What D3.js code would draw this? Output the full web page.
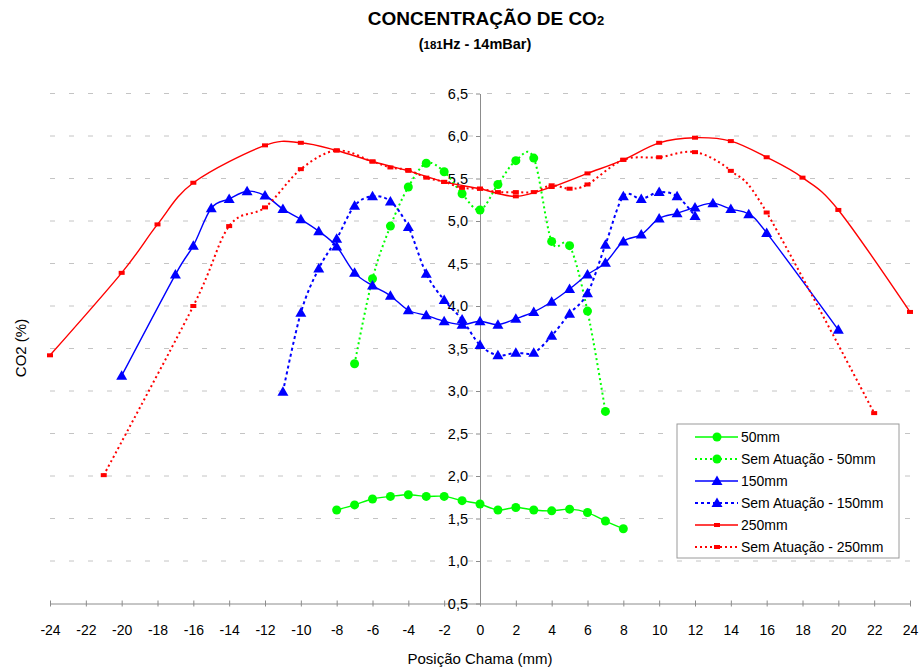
<!DOCTYPE html>
<html>
<head>
<meta charset="utf-8">
<script src="https://cdn.jsdelivr.net/npm/d3@7"></script>
<style>
  body { margin: 0; background: #fff; }
  svg { font-family: "Liberation Sans", Arial, sans-serif; }
</style>
</head>
<body>
<div id="chart"></div>
<script>
// Posição (mm) e CO2 (%) por série
const pos50 = [-8, -7, -6, -5, -4, -3, -2, -1, 0, 1, 2, 3, 4, 5, 6, 7, 8];
const co2_50 = [1.60, 1.66, 1.73, 1.76, 1.78, 1.76, 1.76, 1.71, 1.67, 1.60, 1.63, 1.60, 1.59, 1.61, 1.57, 1.47, 1.38];

const pos50s = [-7, -6, -5, -4, -3, -2, -1, 0, 1, 2, 3, 4, 5, 6, 7];
const co2_50s = [3.32, 4.32, 4.94, 5.40, 5.68, 5.58, 5.32, 5.13, 5.43, 5.71, 5.74, 4.76, 4.71, 3.94, 2.76];

const pos150 = [-20, -17, -16, -15, -14, -13, -12, -11, -10, -9, -8, -7, -6, -5, -4, -3, -2, -1, 0,
                1, 2, 3, 4, 5, 6, 7, 8, 9, 10, 11, 12, 13, 14, 15, 16, 20];
const co2_150 = [3.18, 4.37, 4.71, 5.15, 5.26, 5.35, 5.30, 5.14, 5.02, 4.88, 4.70, 4.39, 4.24, 4.12, 3.95, 3.89, 3.82, 3.78, 3.82,
                 3.78, 3.85, 3.93, 4.05, 4.20, 4.37, 4.51, 4.76, 4.84, 5.03, 5.09, 5.16, 5.21, 5.14, 5.08, 4.86, 3.72];

const pos150s = [-11, -10, -9, -8, -7, -6, -5, -4, -3, -2, -1, 0, 1, 2, 3, 4, 5, 6, 7, 8, 9, 10, 11, 12];
const co2_150s = [2.99, 3.92, 4.44, 4.79, 5.18, 5.29, 5.23, 4.93, 4.38, 4.07, 3.84, 3.54, 3.42, 3.45, 3.45, 3.65, 3.91, 4.15,
                  4.72, 5.29, 5.26, 5.34, 5.29, 5.06];

const pos250 = [-24, -20, -18, -16, -12, -10, -8, -6, -4, -2, 0, 2, 4, 6, 8, 10, 12, 14, 16, 18, 20, 24];
const co2_250 = [3.42, 4.39, 4.96, 5.45, 5.89, 5.92, 5.83, 5.70, 5.59, 5.46, 5.38, 5.29, 5.40, 5.56, 5.72, 5.92, 5.98, 5.94,
                 5.75, 5.51, 5.13, 3.93];

const pos250s = [-21, -16, -14, -12, -10, -8, -6, -5, -4, -3, -2, -1, 0, 1, 2, 3, 4, 5, 6, 8, 10, 12, 14, 16, 22];
const co2_250s = [2.01, 4.00, 4.94, 5.16, 5.61, 5.83, 5.70, 5.63, 5.60, 5.51, 5.46, 5.39, 5.38, 5.34, 5.34, 5.34, 5.42, 5.38,
                  5.43, 5.72, 5.75, 5.81, 5.59, 5.10, 2.74];

const xTicks = d3.range(-24, 25, 2);
const yTicks = d3.range(0.5, 6.51, 0.5);

const seriesNames = ['50mm', 'Sem Atuação - 50mm', '150mm', 'Sem Atuação - 150mm', '250mm', 'Sem Atuação - 250mm'];

const series = [
    { name: seriesNames[0], x: pos50, y: co2_50, color: '#00ff00', dash: null, marker: 'circle' },
    { name: seriesNames[1], x: pos50s, y: co2_50s, color: '#00ff00', dash: '2,3', marker: 'circle' },
    { name: seriesNames[2], x: pos150, y: co2_150, color: '#0000ff', dash: null, marker: 'triangle' },
    { name: seriesNames[3], x: pos150s, y: co2_150s, color: '#0000ff', dash: '3,3', marker: 'triangle' },
    { name: seriesNames[4], x: pos250, y: co2_250, color: '#ff0000', dash: null, marker: 'square' },
    { name: seriesNames[5], x: pos250s, y: co2_250s, color: '#ff0000', dash: '2,3', marker: 'square' }
];

const width = 920, height = 671;

const svg = d3.select('#chart')
    .append('svg')
    .attr('width', width)
    .attr('height', height);

const xScale = d3.scaleLinear().domain([-24, 24]).range([50, 910]);
const yScale = d3.scaleLinear().domain([0.5, 6.5]).range([603.5, 93.5]);

// Gridlines
svg.append('g')
    .selectAll('line')
    .data(yTicks.filter(d => d > 0.5))
    .join('line')
    .attr('x1', xScale(-24))
    .attr('x2', xScale(24))
    .attr('y1', d => yScale(d))
    .attr('y2', d => yScale(d))
    .attr('stroke', '#c4c4c4')
    .attr('stroke-width', 1)
    .attr('stroke-dasharray', '5,14');

// X axis (bottom)
const xAxis = svg.append('g')
    .attr('transform', `translate(0,${yScale(0.5)})`)
    .call(d3.axisBottom(xScale).tickValues(xTicks).tickSize(3).tickSizeOuter(0).tickFormat(d => d));
xAxis.select('.domain').attr('stroke', '#8c8c8c');
xAxis.selectAll('.tick line').attr('stroke', '#8c8c8c').attr('y1', -3).attr('y2', 3);
xAxis.selectAll('.tick text')
    .attr('y', 31)
    .attr('dy', null)
    .attr('font-size', 14)
    .attr('fill', '#000');

// Y axis at x = 0
const yAxis = svg.append('g')
    .attr('transform', `translate(${xScale(0)},0)`)
    .call(d3.axisLeft(yScale).tickValues(yTicks).tickSize(4).tickSizeOuter(0)
        .tickFormat(d => d3.format('.1f')(d).replace('.', ',')));
yAxis.select('.domain').attr('stroke', '#8c8c8c');
yAxis.selectAll('.tick line').attr('stroke', '#8c8c8c');
yAxis.selectAll('.tick text')
    .attr('x', -12)
    .attr('font-size', 14.5)
    .attr('fill', '#000');

// Lines
const line = d3.line()
    .x(d => xScale(d[0]))
    .y(d => yScale(d[1]))
    .curve(d3.curveCardinal.tension(0));

function drawMarker(g, type, color) {
    if (type === 'circle') {
        g.append('circle').attr('r', 4.5).attr('fill', color);
    } else if (type === 'triangle') {
        g.append('path').attr('d', 'M0,-5.5L5.5,4L-5.5,4Z').attr('fill', color);
    } else {
        g.append('rect').attr('x', -3).attr('y', -2).attr('width', 6).attr('height', 4).attr('fill', color);
    }
}

series.forEach(s => {
    const pts = s.x.map((x, i) => [x, s.y[i]]);
    svg.append('path')
        .datum(pts)
        .attr('d', line)
        .attr('fill', 'none')
        .attr('stroke', s.color)
        .attr('stroke-width', s.dash ? 2 : 1.4)
        .attr('stroke-dasharray', s.dash);

    svg.append('g')
        .selectAll('g')
        .data(pts)
        .join('g')
        .attr('transform', d => `translate(${xScale(d[0])},${yScale(d[1])})`)
        .each(function () { drawMarker(d3.select(this), s.marker, s.color); });
});

// Title
const title = svg.append('text')
    .attr('x', 486)
    .attr('y', 25)
    .attr('text-anchor', 'middle')
    .attr('font-weight', 'bold')
    .attr('font-size', 19);
title.append('tspan').text('CONCENTRAÇÃO DE CO');
title.append('tspan').attr('font-size', 13).text('2');

const subtitle = svg.append('text')
    .attr('x', 475)
    .attr('y', 49)
    .attr('text-anchor', 'middle')
    .attr('font-weight', 'bold')
    .attr('font-size', 14.5);
subtitle.append('tspan').text('(');
subtitle.append('tspan').attr('font-size', 11.5).text('181');
subtitle.append('tspan').text('Hz - 14mBar)');

// Axis labels
svg.append('text')
    .attr('x', xScale(0))
    .attr('y', 664)
    .attr('text-anchor', 'middle')
    .attr('font-size', 15)
    .text('Posição Chama (mm)');

svg.append('text')
    .attr('transform', 'rotate(-90)')
    .attr('x', -348)
    .attr('y', 26)
    .attr('text-anchor', 'middle')
    .attr('font-size', 15)
    .text('CO2  (%)');

// Legend
const legend = svg.append('g').attr('transform', 'translate(677,424)');
legend.append('rect')
    .attr('width', 222)
    .attr('height', 134)
    .attr('fill', '#fff')
    .attr('stroke', '#9a9a9a');

series.forEach((s, i) => {
    const row = legend.append('g').attr('transform', `translate(0,${13 + i * 22})`);
    row.append('line')
        .attr('x1', 18).attr('x2', 61)
        .attr('stroke', s.color)
        .attr('stroke-width', s.dash ? 2 : 1.4)
        .attr('stroke-dasharray', s.dash);
    drawMarker(row.append('g').attr('transform', 'translate(40,0)'), s.marker, s.color);
    row.append('text')
        .attr('x', 64)
        .attr('dy', '0.35em')
        .attr('font-size', 14)
        .text(s.name);
});
</script>
</body>
</html>
